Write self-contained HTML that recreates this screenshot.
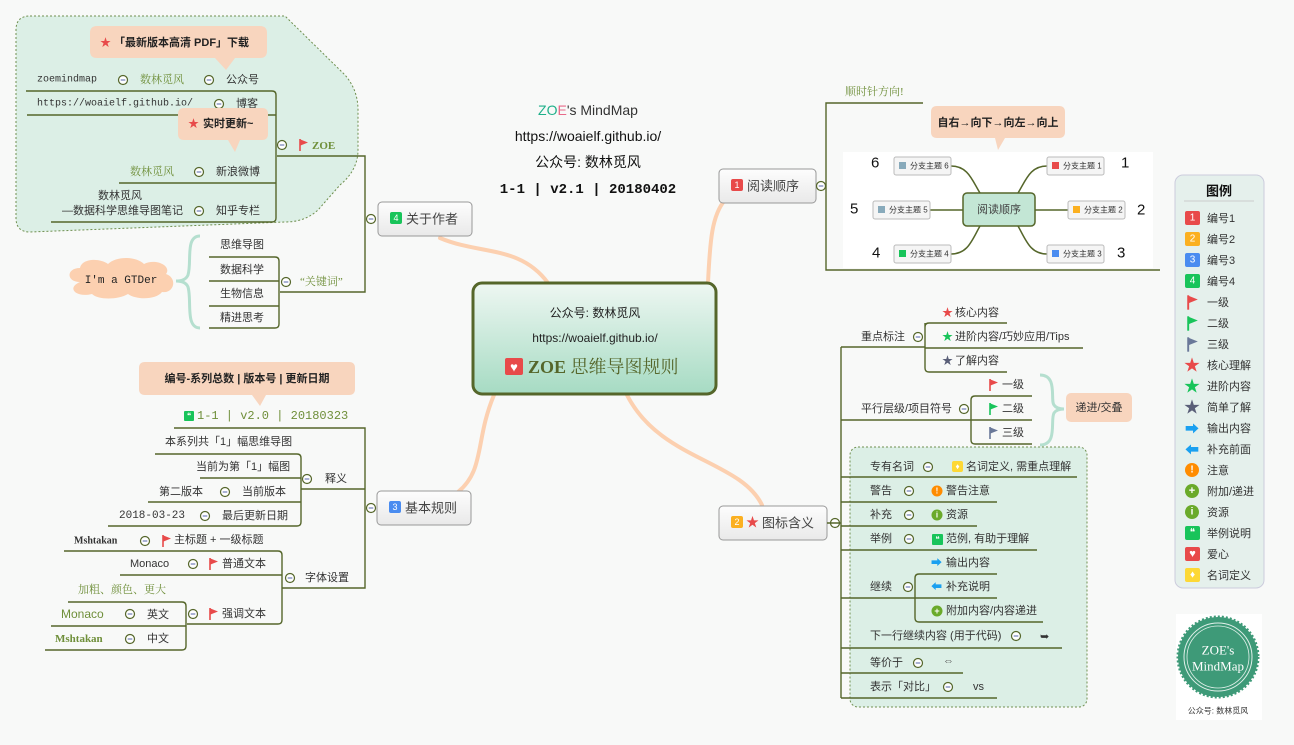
<!DOCTYPE html>
<html><head><meta charset="utf-8">
<style>
html,body{margin:0;padding:0;background:#f8f9f8;}
svg{display:block;font-family:"Liberation Sans","Noto Sans CJK SC",sans-serif;}
.t{font-size:11px;fill:#333;dominant-baseline:central;}
.g{fill:#6f8f3a;font-family:"Liberation Serif","Noto Serif CJK SC",serif;}
.mono{font-family:"Liberation Mono","Noto Sans CJK SC",monospace;font-size:10px;}
.ln{stroke:#55662a;stroke-width:1.4;fill:none;}
.pe{stroke:#fcd0b0;stroke-width:4;fill:none;stroke-linecap:round;}
</style></head><body>
<svg width="1294" height="745" viewBox="0 0 1294 745" xmlns="http://www.w3.org/2000/svg">
<defs>
<symbol id="m" viewBox="-6 -6 12 12" overflow="visible"><circle r="4.5" fill="#fff" stroke="#55662a" stroke-width="1.2"/><line x1="-2.3" x2="2.3" stroke="#5566aa" stroke-width="1"/></symbol>
<symbol id="fr" viewBox="0 0 10 12" overflow="visible"><path d="M1 0V12" stroke="#e84a4a" stroke-width="1.6"/><path d="M1.5 0.5L9 3.5L1.5 6.5Z" fill="#e84a4a"/></symbol>
<symbol id="fg" viewBox="0 0 10 12" overflow="visible"><path d="M1 0V12" stroke="#18c45a" stroke-width="1.6"/><path d="M1.5 0.5L9 3.5L1.5 6.5Z" fill="#18c45a"/></symbol>
<symbol id="fb" viewBox="0 0 10 12" overflow="visible"><path d="M1 0V12" stroke="#6a7899" stroke-width="1.6"/><path d="M1.5 0.5L9 3.5L1.5 6.5Z" fill="#6a7899"/></symbol>
<linearGradient id="cg" x1="0" y1="0" x2="0" y2="1"><stop offset="0" stop-color="#eef7f2"/><stop offset="1" stop-color="#a6dbc3"/></linearGradient>
<linearGradient id="ng" x1="0" y1="0" x2="0" y2="1"><stop offset="0" stop-color="#fdfdfd"/><stop offset="1" stop-color="#e9e9e9"/></linearGradient>
</defs>

<path d="M30 16 H285 L345 75 Q358 90 358 110 V150 Q358 170 340 185 L318 210 Q305 222 285 222 L30 232 Q16 232 16 218 V30 Q16 16 30 16Z" fill="#dcefe6" stroke="#6f8f4f" stroke-dasharray="2,2"/>
<rect x="850" y="447" width="237" height="260" rx="8" fill="#dcefe6" stroke="#6f8f4f" stroke-dasharray="2,2"/>

<path class="pe" d="M548 283 C520 245 480 255 440 238"/>
<path class="pe" d="M708 283 C710 240 712 215 725 200"/>
<path class="pe" d="M494 395 C475 440 485 470 458 492"/>
<path class="pe" d="M627 395 C660 460 740 460 762 505"/>

<text x="588" y="110" class="t" text-anchor="middle" style="font-size:14px"><tspan fill="#1fb08a">ZO</tspan><tspan fill="#e86a8a">E</tspan>'s MindMap</text>
<text x="588" y="136" class="t" text-anchor="middle" style="font-size:14px;fill:#111">https://woaielf.github.io/</text>
<text x="588" y="162" class="t" text-anchor="middle" style="font-size:14px;fill:#111">公众号: 数林觅风</text>
<text x="588" y="190" class="t mono" text-anchor="middle" style="font-size:14px;fill:#111;font-weight:bold">1-1 | v2.1 | 20180402</text>

<rect x="473" y="283" width="243" height="111" rx="9" fill="url(#cg)" stroke="#55662a" stroke-width="3"/>
<text x="595" y="313" class="t" text-anchor="middle" style="font-size:12px;fill:#222">公众号: 数林觅风</text>
<text x="595" y="338" class="t" text-anchor="middle" style="font-size:12px;fill:#222">https://woaielf.github.io/</text>
<rect x="505" y="358" width="18" height="17" rx="2" fill="#e84a4a"/><text x="514" y="367" text-anchor="middle" class="t" style="fill:#fff;font-size:13px">♥</text>
<text x="528" y="367" class="t g" style="font-size:18px;fill:#55662a;font-weight:bold">ZOE <tspan font-weight="normal">思维导图规则</tspan></text>

<rect x="378" y="202" width="94" height="34" rx="4" fill="url(#ng)" stroke="#999"/>
<rect x="390" y="212" width="12" height="12" rx="2" fill="#18c45a"/><text x="396" y="218" text-anchor="middle" class="t" style="fill:#fff;font-size:9px">4</text>
<text x="406" y="219" class="t" style="font-size:13px;fill:#444">关于作者</text>
<rect x="719" y="169" width="97" height="34" rx="4" fill="url(#ng)" stroke="#999"/>
<rect x="731" y="179" width="12" height="12" rx="2" fill="#e84a4a"/><text x="737" y="185" text-anchor="middle" class="t" style="fill:#fff;font-size:9px">1</text>
<text x="747" y="186" class="t" style="font-size:13px;fill:#444">阅读顺序</text>
<rect x="377" y="491" width="94" height="34" rx="4" fill="url(#ng)" stroke="#999"/>
<rect x="389" y="501" width="12" height="12" rx="2" fill="#4a8cf0"/><text x="395" y="507" text-anchor="middle" class="t" style="fill:#fff;font-size:9px">3</text>
<text x="405" y="508" class="t" style="font-size:13px;fill:#444">基本规则</text>
<rect x="719" y="506" width="108" height="34" rx="4" fill="url(#ng)" stroke="#999"/>
<rect x="731" y="516" width="12" height="12" rx="2" fill="#fbb020"/><text x="737" y="522" text-anchor="middle" class="t" style="fill:#fff;font-size:9px">2</text>
<text x="746" y="522" class="t" style="fill:#e84a4a;font-size:13px">★</text>
<text x="762" y="523" class="t" style="font-size:13px;fill:#444">图标含义</text>

<use href="#m" x="365" y="213" width="12" height="12"/>
<path class="ln" d="M277 156 H365 V292 H280"/>
<path class="ln" d="M26 91 H272 Q276 91 276 95 V218 Q276 222 272 222 H51 M27 115 H276 M119 183 H276"/>
<use href="#m" x="276" y="139" width="12" height="12"/>
<use href="#fr" x="299" y="139" width="10" height="12"/>
<text x="312" y="146" class="t g" style="font-weight:bold;fill:#6f8f3a">ZOE</text>
<path d="M100 26 H260 Q267 26 267 33 V51 Q267 58 260 58 H235 L226 70 L215 58 H97 Q90 58 90 51 V33 Q90 26 97 26Z" fill="#f8d5be"/>
<text x="100" y="43" class="t" style="fill:#e84a4a">★</text>
<text x="114" y="43" class="t" style="fill:#222;font-weight:bold">「最新版本高清 PDF」下载</text>
<text x="37" y="80" class="t mono" style="fill:#333">zoemindmap</text>
<use href="#m" x="117" y="74" width="12" height="12"/>
<text x="140" y="80" class="t g">数林觅风</text>
<use href="#m" x="203" y="74" width="12" height="12"/>
<text x="226" y="80" class="t">公众号</text>
<text x="37" y="104" class="t mono">https://woaielf.github.io/</text>
<use href="#m" x="213" y="98" width="12" height="12"/>
<text x="236" y="104" class="t">博客</text>
<path d="M184 108 H262 Q268 108 268 114 V134 Q268 140 262 140 H240 L235 152 L228 140 H184 Q178 140 178 134 V114 Q178 108 184 108Z" fill="#f8d5be"/>
<text x="188" y="134" class="t" style="fill:#e84a4a" dy="-10">★</text>
<text x="203" y="124" class="t" style="fill:#222;font-weight:bold">实时更新~</text>
<text x="130" y="172" class="t g">数林觅风</text>
<use href="#m" x="193" y="166" width="12" height="12"/>
<text x="216" y="172" class="t">新浪微博</text>
<text x="98" y="196" class="t">数林觅风</text>
<text x="62" y="211" class="t">—数据科学思维导图笔记</text>
<use href="#m" x="193" y="205" width="12" height="12"/>
<text x="216" y="211" class="t">知乎专栏</text>
<path class="ln" d="M209 257 H275 Q279 257 279 261 V324 Q279 328 275 328 H209 M209 281 H279 M209 306 H279"/>
<use href="#m" x="280" y="276" width="12" height="12"/>
<text x="300" y="282" class="t g">“关键词”</text>
<text x="220" y="245" class="t">思维导图</text>
<text x="220" y="270" class="t">数据科学</text>
<text x="220" y="294" class="t">生物信息</text>
<text x="220" y="318" class="t">精进思考</text>
<path d="M200 236 C185 236 192 262 188 275 C186 280 180 281 176 281 C180 281 186 282 188 287 C192 300 185 328 200 328" fill="none" stroke="#b5dfcf" stroke-width="3"/>
<path d="M80 282 C66 282 66 268 80 268 C82 258 100 258 108 264 C116 256 136 256 144 264 C156 258 172 266 166 274 C178 278 174 294 162 292 C156 300 136 300 128 294 C118 300 98 300 92 294 C76 298 66 288 80 282Z" fill="#fcd0b0"/>
<text x="121" y="281" class="t mono" text-anchor="middle" style="fill:#222;font-size:11px">I'm a GTDer</text>

<use href="#m" x="365" y="502" width="12" height="12"/>
<path d="M145 362 H349 Q355 362 355 368 V389 Q355 395 349 395 H266 L260 406 L252 395 H145 Q139 395 139 389 V368 Q139 362 145 362Z" fill="#f8d5be"/>
<text x="247" y="379" text-anchor="middle" class="t" style="fill:#222;font-weight:bold">编号-系列总数 | 版本号 | 更新日期</text>
<rect x="184" y="411" width="10" height="10" rx="1" fill="#18c45a"/><text x="189" y="416" text-anchor="middle" class="t" style="fill:#fff;font-size:8px">❝</text>
<text x="197" y="416" class="t mono" style="fill:#6f8f3a;font-size:12px">1-1 | v2.0 | 20180323</text>
<path class="ln" d="M174 428 H365 V588 H282"/>
<path class="ln" d="M365 489 H301"/>
<path class="ln" d="M155 454 H297 Q301 454 301 458 V522 Q301 526 297 526 H108 M200 478 H301 M148 502 H301"/>
<use href="#m" x="301" y="473" width="12" height="12"/>
<text x="325" y="479" class="t">释义</text>
<text x="165" y="442" class="t">本系列共「1」幅思维导图</text>
<text x="196" y="467" class="t">当前为第「1」幅图</text>
<text x="159" y="492" class="t">第二版本</text>
<use href="#m" x="219" y="486" width="12" height="12"/>
<text x="242" y="492" class="t">当前版本</text>
<text x="119" y="516" class="t mono" style="font-size:11px">2018-03-23</text>
<use href="#m" x="199" y="510" width="12" height="12"/>
<text x="222" y="516" class="t">最后更新日期</text>
<use href="#m" x="284" y="572" width="12" height="12"/>
<text x="305" y="578" class="t">字体设置</text>
<path class="ln" d="M64 551 H278 Q282 551 282 555 V620 Q282 624 278 624 H187 M120 575 H282"/>
<text x="74" y="541" class="t g" style="fill:#333;font-weight:bold;font-size:10px">Mshtakan</text>
<use href="#m" x="139" y="535" width="12" height="12"/>
<use href="#fr" x="162" y="535" width="10" height="12"/>
<text x="174" y="540" class="t">主标题 + 一级标题</text>
<text x="130" y="564" class="t">Monaco</text>
<use href="#m" x="187" y="558" width="12" height="12"/>
<use href="#fr" x="209" y="558" width="10" height="12"/>
<text x="222" y="564" class="t">普通文本</text>
<text x="78" y="590" class="t g">加粗、颜色、更大</text>
<path class="ln" d="M68 602 H182 Q186 602 186 606 V646 Q186 650 182 650 H45 M51 626 H186"/>
<use href="#m" x="187" y="608" width="12" height="12"/>
<use href="#fr" x="209" y="608" width="10" height="12"/>
<text x="222" y="614" class="t">强调文本</text>
<text x="61" y="614" class="t" style="fill:#6f8f3a;font-size:12px">Monaco</text>
<use href="#m" x="124" y="608" width="12" height="12"/>
<text x="147" y="615" class="t">英文</text>
<text x="55" y="639" class="t g" style="font-weight:bold;font-size:11px">Mshtakan</text>
<use href="#m" x="124" y="633" width="12" height="12"/>
<text x="147" y="639" class="t">中文</text>

<use href="#m" x="815" y="180" width="12" height="12"/>
<path class="ln" d="M923 103 H826 V270 H1160"/>
<text x="845" y="92" class="t g">顺时针方向!</text>
<rect x="843" y="152" width="310" height="116" fill="#fff"/>
<path d="M937 106 H1059 Q1065 106 1065 112 V132 Q1065 138 1059 138 H1005 L998 150 L995 138 H937 Q931 138 931 132 V112 Q931 106 937 106Z" fill="#f8d5be"/>
<text x="998" y="123" text-anchor="middle" class="t" style="fill:#222;font-weight:bold">自右→向下→向左→向上</text>
<g fill="none" stroke="#55662a" stroke-width="1.5">
<path d="M951 166 C968 166 972 180 980 193 M1047 166 C1030 166 1026 180 1018 193 M930 210 H963 M1035 210 H1068 M951 254 C968 254 972 240 980 226 M1047 254 C1030 254 1026 240 1018 226"/>
</g>
<rect x="963" y="193" width="72" height="33" rx="4" fill="#c3e6d5" stroke="#55662a" stroke-width="1.5"/>
<text x="999" y="210" text-anchor="middle" class="t" style="fill:#444">阅读顺序</text>
<rect x="894" y="157" width="57" height="18" rx="2" fill="#f5f5f5" stroke="#bbb"/><rect x="899" y="162" width="7" height="7" fill="#8ab"/><text x="910" y="166" class="t" style="font-size:8px">分支主题 6</text>
<rect x="1047" y="157" width="57" height="18" rx="2" fill="#f5f5f5" stroke="#bbb"/><rect x="1052" y="162" width="7" height="7" fill="#e84a4a"/><text x="1063" y="166" class="t" style="font-size:8px">分支主题 1</text>
<rect x="873" y="201" width="57" height="18" rx="2" fill="#f5f5f5" stroke="#bbb"/><rect x="878" y="206" width="7" height="7" fill="#8ab"/><text x="889" y="210" class="t" style="font-size:8px">分支主题 5</text>
<rect x="1068" y="201" width="57" height="18" rx="2" fill="#f5f5f5" stroke="#bbb"/><rect x="1073" y="206" width="7" height="7" fill="#fbb020"/><text x="1084" y="210" class="t" style="font-size:8px">分支主题 2</text>
<rect x="894" y="245" width="57" height="18" rx="2" fill="#f5f5f5" stroke="#bbb"/><rect x="899" y="250" width="7" height="7" fill="#18c45a"/><text x="910" y="254" class="t" style="font-size:8px">分支主题 4</text>
<rect x="1047" y="245" width="57" height="18" rx="2" fill="#f5f5f5" stroke="#bbb"/><rect x="1052" y="250" width="7" height="7" fill="#4a8cf0"/><text x="1063" y="254" class="t" style="font-size:8px">分支主题 3</text>
<text x="871" y="163" class="t" style="font-size:15px;fill:#111">6</text>
<text x="1121" y="163" class="t" style="font-size:15px;fill:#111">1</text>
<text x="850" y="209" class="t" style="font-size:15px;fill:#111">5</text>
<text x="1137" y="210" class="t" style="font-size:15px;fill:#111">2</text>
<text x="872" y="253" class="t" style="font-size:15px;fill:#111">4</text>
<text x="1117" y="253" class="t" style="font-size:15px;fill:#111">3</text>

<use href="#m" x="829" y="517" width="12" height="12"/>
<path class="ln" d="M827 523 H841 M841 347 V698"/>
<path class="ln" d="M841 347 H925 M925 323 V368 Q925 372 929 372 H1007 M925 327 Q925 323 929 323 H1007 M925 348 H1083"/>
<text x="861" y="337" class="t">重点标注</text>
<use href="#m" x="912" y="331" width="12" height="12"/>
<text x="942" y="313" class="t" style="fill:#e84a4a">★</text><text x="955" y="313" class="t">核心内容</text>
<text x="942" y="337" class="t" style="fill:#18c45a">★</text><text x="955" y="337" class="t">进阶内容/巧妙应用/Tips</text>
<text x="942" y="361" class="t" style="fill:#5a5f78">★</text><text x="955" y="361" class="t">了解内容</text>
<path class="ln" d="M841 420 H971 M975 396 H1032 M971 400 Q971 396 975 396 M971 400 V440 Q971 444 975 444 H1032 M971 420 H1032"/>
<text x="861" y="409" class="t">平行层级/项目符号</text>
<use href="#m" x="958" y="403" width="12" height="12"/>
<use href="#fr" x="989" y="379" width="10" height="12"/><text x="1002" y="385" class="t">一级</text>
<use href="#fg" x="989" y="403" width="10" height="12"/><text x="1002" y="409" class="t">二级</text>
<use href="#fb" x="989" y="427" width="10" height="12"/><text x="1002" y="433" class="t">三级</text>
<path d="M1040 375 C1058 375 1050 400 1054 405 C1056 408 1060 409 1064 409 C1060 409 1056 410 1054 413 C1050 420 1058 445 1040 445" fill="none" stroke="#b5dfcf" stroke-width="3"/>
<rect x="1066" y="393" width="66" height="29" rx="5" fill="#f8d5be"/>
<text x="1099" y="408" text-anchor="middle" class="t">递进/交叠</text>

<path class="ln" d="M841 477 H1077 M841 502 H997 M841 526 H977 M841 550 H1037 M841 598 H915 M915 578 Q915 574 919 574 H997 M915 578 V618 Q915 622 919 622 H1043 M915 598 H997 M841 648 H1062 M841 673 H963 M841 698 H997"/>
<text x="870" y="467" class="t">专有名词</text><use href="#m" x="922" y="461" width="12" height="12"/>
<rect x="952" y="461" width="11" height="11" rx="2" fill="#fdd835"/><text x="957.5" y="466.5" text-anchor="middle" class="t" style="fill:#fff;font-size:8px">♦</text>
<text x="966" y="467" class="t">名词定义, 需重点理解</text>
<text x="870" y="491" class="t">警告</text><use href="#m" x="903" y="485" width="12" height="12"/>
<circle cx="937" cy="491" r="5.5" fill="#ff8c00"/><text x="937" y="491" text-anchor="middle" class="t" style="fill:#fff;font-size:8px;font-weight:bold">!</text>
<text x="946" y="491" class="t">警告注意</text>
<text x="870" y="515" class="t">补充</text><use href="#m" x="903" y="509" width="12" height="12"/>
<circle cx="937" cy="515" r="5.5" fill="#6aaa2a"/><text x="937" y="515" text-anchor="middle" class="t" style="fill:#fff;font-size:8px;font-weight:bold">i</text>
<text x="946" y="515" class="t">资源</text>
<text x="870" y="539" class="t">举例</text><use href="#m" x="903" y="533" width="12" height="12"/>
<rect x="932" y="534" width="11" height="11" rx="1" fill="#18c45a"/><text x="937.5" y="539.5" text-anchor="middle" class="t" style="fill:#fff;font-size:8px">❝</text>
<text x="946" y="539" class="t">范例, 有助于理解</text>
<text x="870" y="587" class="t">继续</text><use href="#m" x="902" y="581" width="12" height="12"/>
<text x="931" y="563" class="t" style="fill:#1aa0f0">➡</text><text x="946" y="563" class="t">输出内容</text>
<text x="931" y="587" class="t" style="fill:#1aa0f0">⬅</text><text x="946" y="587" class="t">补充说明</text>
<circle cx="937" cy="611" r="5.5" fill="#6aaa2a"/><text x="937" y="611" text-anchor="middle" class="t" style="fill:#fff;font-size:9px;font-weight:bold">+</text>
<text x="946" y="611" class="t">附加内容/内容递进</text>
<text x="870" y="636" class="t">下一行继续内容 (用于代码)</text><use href="#m" x="1010" y="630" width="12" height="12"/>
<text x="1040" y="637" class="t" style="fill:#333">➥</text>
<text x="870" y="663" class="t">等价于</text><use href="#m" x="912" y="657" width="12" height="12"/>
<text x="943" y="661" class="t" style="fill:#555">⇔</text>
<text x="870" y="687" class="t">表示「对比」</text><use href="#m" x="942" y="681" width="12" height="12"/>
<text x="973" y="687" class="t">vs</text>

<rect x="1175" y="175" width="89" height="413" rx="8" fill="#e5f0ec" stroke="#ccd"/>
<text x="1219" y="191" text-anchor="middle" class="t" style="font-size:13px;font-weight:bold;fill:#111">图例</text>
<line x1="1184" y1="201" x2="1254" y2="201" stroke="#ccc"/>
<rect x="1185" y="211" width="15" height="14" rx="2" fill="#e84a4a"/><text x="1192.5" y="218" text-anchor="middle" class="t" style="fill:#fff;font-size:10px">1</text><text x="1207" y="219" class="t">编号1</text>
<rect x="1185" y="232" width="15" height="14" rx="2" fill="#fbb020"/><text x="1192.5" y="239" text-anchor="middle" class="t" style="fill:#fff;font-size:10px">2</text><text x="1207" y="240" class="t">编号2</text>
<rect x="1185" y="253" width="15" height="14" rx="2" fill="#4a8cf0"/><text x="1192.5" y="260" text-anchor="middle" class="t" style="fill:#fff;font-size:10px">3</text><text x="1207" y="261" class="t">编号3</text>
<rect x="1185" y="274" width="15" height="14" rx="2" fill="#18c45a"/><text x="1192.5" y="281" text-anchor="middle" class="t" style="fill:#fff;font-size:10px">4</text><text x="1207" y="282" class="t">编号4</text>
<use href="#fr" x="1187" y="295" width="12" height="15"/><text x="1207" y="303" class="t">一级</text>
<use href="#fg" x="1187" y="316" width="12" height="15"/><text x="1207" y="324" class="t">二级</text>
<use href="#fb" x="1187" y="337" width="12" height="15"/><text x="1207" y="345" class="t">三级</text>
<text x="1192" y="366" text-anchor="middle" class="t" style="fill:#e84a4a;font-size:16px">★</text><text x="1207" y="366" class="t">核心理解</text>
<text x="1192" y="387" text-anchor="middle" class="t" style="fill:#18c45a;font-size:16px">★</text><text x="1207" y="387" class="t">进阶内容</text>
<text x="1192" y="408" text-anchor="middle" class="t" style="fill:#5a5f78;font-size:16px">★</text><text x="1207" y="408" class="t">简单了解</text>
<text x="1192" y="429" text-anchor="middle" class="t" style="fill:#1aa0f0;font-size:14px">➡</text><text x="1207" y="429" class="t">输出内容</text>
<text x="1192" y="450" text-anchor="middle" class="t" style="fill:#1aa0f0;font-size:14px">⬅</text><text x="1207" y="450" class="t">补充前面</text>
<circle cx="1192" cy="470" r="7" fill="#ff8c00"/><text x="1192" y="470" text-anchor="middle" class="t" style="fill:#fff;font-size:10px;font-weight:bold">!</text><text x="1207" y="471" class="t">注意</text>
<circle cx="1192" cy="491" r="7" fill="#6aaa2a"/><text x="1192" y="491" text-anchor="middle" class="t" style="fill:#fff;font-size:11px;font-weight:bold">+</text><text x="1207" y="492" class="t">附加/递进</text>
<circle cx="1192" cy="512" r="7" fill="#6aaa2a"/><text x="1192" y="512" text-anchor="middle" class="t" style="fill:#fff;font-size:10px;font-weight:bold">i</text><text x="1207" y="513" class="t">资源</text>
<rect x="1185" y="526" width="15" height="14" rx="2" fill="#18c45a"/><text x="1192.5" y="533" text-anchor="middle" class="t" style="fill:#fff;font-size:10px">❝</text><text x="1207" y="534" class="t">举例说明</text>
<rect x="1185" y="547" width="15" height="14" rx="2" fill="#e84a4a"/><text x="1192.5" y="554" text-anchor="middle" class="t" style="fill:#fff;font-size:11px">♥</text><text x="1207" y="555" class="t">爱心</text>
<rect x="1185" y="568" width="15" height="14" rx="2" fill="#fdd835"/><text x="1192.5" y="575" text-anchor="middle" class="t" style="fill:#fff;font-size:10px">♦</text><text x="1207" y="576" class="t">名词定义</text>

<rect x="1176" y="614" width="86" height="106" fill="#fff"/>
<circle cx="1218" cy="657" r="40" fill="#3e9a78" stroke="#3e9a78" stroke-width="3" stroke-dasharray="2,2"/>
<circle cx="1218" cy="657" r="34" fill="none" stroke="#e0f0ea" stroke-width="1"/>
<circle cx="1218" cy="657" r="31" fill="none" stroke="#e0f0ea" stroke-width="0.8"/>
<text x="1218" y="650" text-anchor="middle" class="t g" style="fill:#fff;font-size:13px">ZOE's</text>
<text x="1218" y="666" text-anchor="middle" class="t g" style="fill:#fff;font-size:13px">MindMap</text>
<text x="1218" y="711" text-anchor="middle" class="t" style="font-size:8px;fill:#333">公众号: 数林觅风</text>
</svg>
</body></html>
